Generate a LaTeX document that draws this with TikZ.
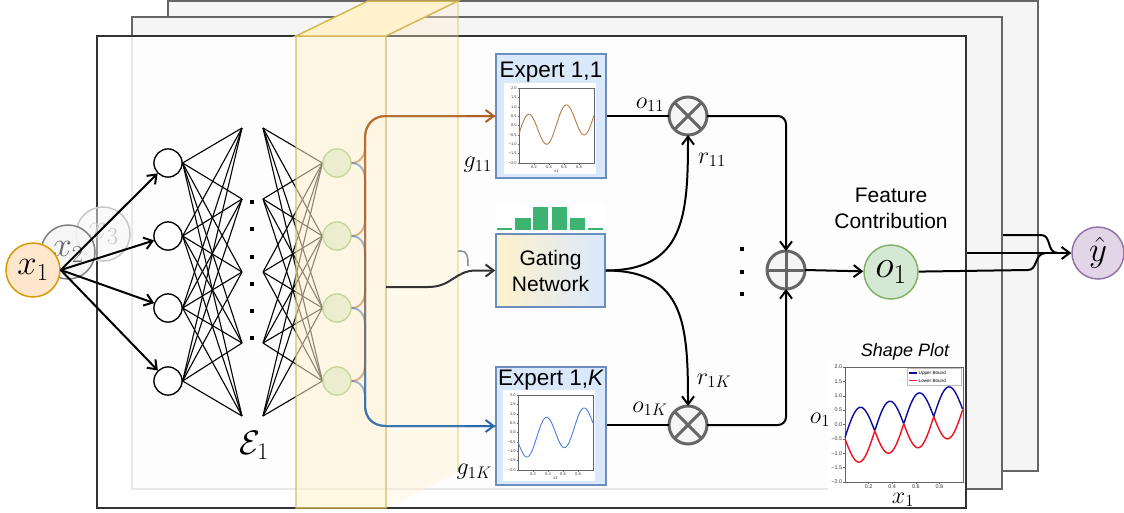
\RequirePackage{fix-cm}
\documentclass[tikz,border=0pt]{standalone}
\usepackage{fontspec}
\setsansfont{Liberation Sans}
\usetikzlibrary{arrows.meta}

\definecolor{frameline}{HTML}{333333}
\definecolor{bfill}{HTML}{F5F5F5}
\definecolor{bline}{HTML}{666666}
\definecolor{slabc}{HTML}{FFF2CC}
\definecolor{slabl}{HTML}{D6B656}
\definecolor{expf}{HTML}{DAE8FC}
\definecolor{expl}{HTML}{6C8EBF}
\definecolor{grf}{HTML}{D5E8D4}
\definecolor{grl}{HTML}{82B366}
\definecolor{orf}{HTML}{FFE6CC}
\definecolor{orl}{HTML}{D79B00}
\definecolor{puf}{HTML}{E1D5E7}
\definecolor{pul}{HTML}{9673A6}
\definecolor{busor}{HTML}{B0601E}
\definecolor{busbl}{HTML}{2A68AC}
\definecolor{barg}{HTML}{3CB371}
\definecolor{curveor}{HTML}{B97A45}
\definecolor{curvebl}{HTML}{4A7FE0}
\definecolor{upc}{HTML}{0A0AA0}
\definecolor{loc}{HTML}{F01020}

\tikzset{
 arrowtip/.style={-{Straight Barb[length=8pt,width=12pt]}},
 conn/.style={line width=2pt, black},
 nn/.style={line width=1.1pt, black},
 hid/.style={circle, draw, line width=1.2pt, fill=white, minimum size=28pt, inner sep=0pt},
 grn/.style={circle, draw=grl, line width=1.2pt, fill=grf, minimum size=28pt, inner sep=0pt},
 opc/.style={circle, draw=bline, line width=3pt, fill=bfill, minimum size=38pt, inner sep=0pt, outer sep=0pt},
 lbl/.style={font=\fontsize{24}{24}\selectfont, inner sep=0pt},
 sanslbl/.style={font=\sffamily\fontsize{21}{26}\selectfont, align=center, inner sep=0pt},
 titlelbl/.style={font=\sffamily\fontsize{22.5}{26}\selectfont, inner sep=0pt},
 tk/.style={font=\sffamily\fontsize{4}{4}\selectfont, inner sep=0.6pt, text=black!80},
 tkb/.style={font=\sffamily\fontsize{5.4}{6}\selectfont, inner sep=0.8pt, text=black!80},
 dotsq/.style={fill=black, minimum size=4.5pt, inner sep=0pt},
 bframe/.style={fill=bfill, draw=bline, line width=1.5pt},
}

\newcommand{\expplot}[4]{%
\begin{scope}[shift={(#1,#2)}]
 \fill[white] (-15,-5) rectangle (77,86);
 \draw[line width=0.4pt, black!60] (0,0) rectangle (75,75);
 \foreach \k/\l in {0/2.0,1/1.5,2/1.0,3/0.5,4/0.0,5/−0.5,6/−1.0,7/−1.5,8/−2.0}{
   \draw[line width=0.3pt, black!60] (0,\k*9.375) -- (-1.5,\k*9.375);
   \node[tk, anchor=east] at (-1.5,\k*9.375) {\l};}
 \foreach \k in {0.2,0.4,0.6,0.8}{
   \draw[line width=0.3pt, black!60] (75*\k,75) -- (75*\k,76.5);
   \node[tk, anchor=north] at (75*\k,76.5) {\k};}
 \node[tk] at (37.5,83) {x1};
 \draw[#3, line width=0.9pt] plot[domain=0:1, samples=120] ({75*\x},{37.5-18.75*(#4)});
\end{scope}}

\begin{document}
\begin{tikzpicture}[x=1pt,y=-1pt]
\useasboundingbox (0,0) rectangle (1124,512);

% output node
\node[circle, draw=pul, fill=puf, line width=1.5pt, minimum size=52pt, inner sep=0pt,
      font=\fontsize{35}{35}\selectfont] (yhat) at (1098,253) {$\hat{y}$};

% back layers
\filldraw[bframe] (168,1) rectangle (1038,471);
\draw[conn] (1002,235) -- (1041,235) .. controls (1052,235) and (1046,253) .. (1058,253);
\filldraw[bframe] (132,17) rectangle (1002,489);
\draw[conn, arrowtip] (966,253) -- (yhat);

% front frame
\filldraw[fill=white, fill opacity=0.85, draw=frameline, line width=1.8pt] (97,36) rectangle (966,508);

% faded inputs of the other layers
\node[circle, draw=black!22, fill=bfill, fill opacity=0.5, text opacity=1, line width=1.5pt,
      minimum size=54pt, inner sep=0pt, text=black!22, font=\fontsize{35}{35}\selectfont] (x3) at (103,234) {$x_3$};
\node[circle, draw=black!50, fill=bfill, fill opacity=0.85, text opacity=1, line width=1.5pt,
      minimum size=54pt, inner sep=0pt, text=black!60, font=\fontsize{35}{35}\selectfont] (x2) at (68,252) {$x_2$};
\node[circle, draw=orl, fill=orf, line width=1.5pt, minimum size=54pt, inner sep=0pt,
      font=\fontsize{35}{35}\selectfont] (x1) at (33,270) {$x_1$};

% network
\foreach \i/\y in {1/163,2/236,3/308,4/381}{
  \node[hid] (h\i) at (168,\y) {};
  \node[grn] (g\i) at (337,\y) {};
}
\foreach \j/\y in {1/128,2/199,3/272,4/343,5/416}{
  \coordinate (pl\j) at (242,\y);
  \coordinate (pr\j) at (263,\y);
}
\foreach \i in {1,...,4}{
  \foreach \j in {1,...,5}{
    \draw[nn] (h\i.east) -- (pl\j);
    \draw[nn] (pr\j) -- (g\i.west);
  }
}
\foreach \i in {1,...,4}{
  \node[hid] at (h\i) {};
  \node[grn] at (g\i) {};
  \draw[conn, arrowtip] (x1.east) -- (h\i);
}
\foreach \y [count=\k] in {202,229,257,284,311,338}{
  \node[dotsq] (d\k) at (252,\y) {};
}
\node[font=\fontsize{34}{34}\selectfont, inner sep=0pt] (E) at (254,445) {$\mathcal{E}_1$};

% slab
\fill[slabc, opacity=0.35] (386,36) -- (458,1) -- (458,472) -- (386,508) -- cycle;
\draw[slabl, opacity=0.35, line width=1.2pt] (458,1) -- (458,472);
\filldraw[fill=slabc, draw=slabl, fill opacity=0.55, draw opacity=0.6, line width=1.5pt] (296,36) rectangle (386,508);
\filldraw[fill=slabc, draw=slabl, line width=1.5pt] (296,36) -- (368,1) -- (458,1) -- (386,36) -- cycle;

% experts and gating
\node[draw=expl, fill=expf, line width=1.5pt, minimum width=110pt, minimum height=124pt, inner sep=0pt] (E11) at (551,116) {};
\node[draw=expl, fill=expf, line width=1.5pt, minimum width=110pt, minimum height=118pt, inner sep=0pt] (E1K) at (551,426) {};
\node[titlelbl] (t11) at (551,72) {Expert 1,1};
\node[titlelbl] (t1K) at (551,380) {Expert 1,\textit{K}};
\expplot{519}{88}{curveor}{\x-0.45+0.92*sin(720*\x)}
\expplot{518}{395}{curvebl}{\x-0.5-0.93*sin(720*\x)}

\node[draw=expl, left color=slabc, right color=expf, line width=1.5pt, minimum width=109pt, minimum height=73pt,
      sanslbl] (G) at (550.5,270.5) {Gating\\Network};
\fill[white] (496,203) rectangle (605,231);
\fill[barg] (497,227.5) rectangle (512,230);
\fill[barg] (515,218) rectangle (531,230);
\fill[barg] (533,207) rectangle (548,230);
\fill[barg] (552,207) rectangle (567,230);
\fill[barg] (570,218) rectangle (585,230);
\fill[barg] (588,227.5) rectangle (603,230);

% buses
\foreach \i/\y in {1/163,2/236,3/308,4/381}{
  \draw[busor, line width=2pt, opacity=0.45] (g\i.east) .. controls (359,\y) and (365,\y-6) .. (365,\y-16)
     -- (365,138) .. controls (365,125) and (373,116) .. (386,116) -- (E11.west);
  \draw[busbl, line width=2pt, opacity=0.45] (g\i.east) .. controls (359,\y) and (365,\y+6) .. (365,\y+16)
     -- (365,405) .. controls (365,418) and (373,426) .. (386,426) -- (E1K.west);
}
\draw[busor, line width=2pt, arrowtip] (465,116) -- (E11.west);
\draw[busbl, line width=2pt, arrowtip] (465,426) -- (E1K.west);

\draw[line width=2pt, black!80, arrowtip] (386,287) -- (428,287) .. controls (452,287) and (455,270.5) .. (476,270.5) -- (G.west);
\draw[line width=1.5pt, black!45] (458,251) -- (461,251) .. controls (467,251) and (468,256) .. (468,266);

\node[lbl, anchor=east] (lg11) at (492,165) {$g_{11}$};
\node[lbl, anchor=east] (lg1K) at (492,472) {$g_{1K}$};

% combination
\node[opc] (m11) at (688,116) {};
\node[opc] (m1K) at (688,425) {};
\node[opc] (S) at (786,270) {};
\draw[bline, line width=3pt] (m11.north west) -- (m11.south east) (m11.north east) -- (m11.south west);
\draw[bline, line width=3pt] (m1K.north west) -- (m1K.south east) (m1K.north east) -- (m1K.south west);
\draw[bline, line width=3pt] (S.north) -- (S.south) (S.west) -- (S.east);

\draw[conn] (E11.east) -- (m11.west);
\draw[conn] (E1K.east |- m1K) -- (m1K.west);
\draw[conn, arrowtip] (G.east) .. controls (685,270.5) and (688,215) .. (m11.south);
\draw[conn, arrowtip] (G.east) .. controls (685,270.5) and (688,325) .. (m1K.north);
\draw[conn, arrowtip, rounded corners=8pt] (m11.east) -| (S.north);
\draw[conn, arrowtip, rounded corners=8pt] (m1K.east) -| (S.south);

\node[lbl] (lo11) at (650,105) {$o_{11}$};
\node[lbl] (lo1K) at (650,409) {$o_{1K}$};
\node[lbl] (lr11) at (712,160) {$r_{11}$};
\node[lbl] (lr1K) at (714,381) {$r_{1K}$};
\foreach \y [count=\k] in {249,272,294}{
  \node[dotsq] (v\k) at (742,\y) {};
}

\node[circle, draw=grl, fill=grf, line width=1.5pt, minimum size=54pt, inner sep=0pt,
      font=\fontsize{39}{39}\selectfont] (o1) at (891,272) {$o_1$};
\draw[conn, arrowtip] (S.east) -- (o1);
\node[sanslbl] (fc) at (891,208) {Feature\\Contribution};
\draw[conn] (o1) -- (1028,270) .. controls (1038,270) and (1034,253) .. (1046,253);

% shape plot
\node[font=\sffamily\itshape\fontsize{18}{18}\selectfont] (sp) at (905,352) {Shape Plot};
\begin{scope}[shift={(845,367)}]
 \fill[white] (-17,-5) rectangle (120,139);
 \draw[line width=0.4pt, black!60] (0,0) rectangle (118,115);
 \foreach \k/\l in {0/2.0,1/1.5,2/1.0,3/0.5,4/0.0,5/−0.5,6/−1.0,7/−1.5,8/−2.0}{
   \draw[line width=0.3pt, black!60] (0,\k*14.375) -- (-2,\k*14.375);
   \node[tkb, anchor=east] at (-2,\k*14.375) {\l};}
 \foreach \k in {0.2,0.4,0.6,0.8}{
   \draw[line width=0.3pt, black!60] (118*\k,115) -- (118*\k,117);
   \node[tkb, anchor=north] at (118*\k,116.5) {\k};}
 \draw[upc, line width=1.4pt] plot[domain=0:1, samples=200]
   ({118*\x},{57.5-28.75*max(\x-0.45+0.92*sin(720*\x), \x-0.5-0.93*sin(720*\x))});
 \draw[loc, line width=1.4pt] plot[domain=0:1, samples=200]
   ({118*\x},{57.5-28.75*min(\x-0.45+0.92*sin(720*\x), \x-0.5-0.93*sin(720*\x))});
 \filldraw[fill=white, draw=black!25, line width=0.3pt] (62,1.5) rectangle (116,18);
 \draw[upc, line width=1.2pt] (64,6) -- (72,6);
 \draw[loc, line width=1.2pt] (64,13.5) -- (72,13.5);
 \node[font=\sffamily\fontsize{4.6}{5}\selectfont, anchor=west, inner sep=0.5pt] at (73,6) {Upper Bound};
 \node[font=\sffamily\fontsize{4.6}{5}\selectfont, anchor=west, inner sep=0.5pt] at (73,13.5) {Lower Bound};
\end{scope}
\node[lbl] (lo1) at (820,420) {$o_1$};
\node[lbl, anchor=north] (lx1) at (903,492.5) {$x_1$};

\end{tikzpicture}
\end{document}
